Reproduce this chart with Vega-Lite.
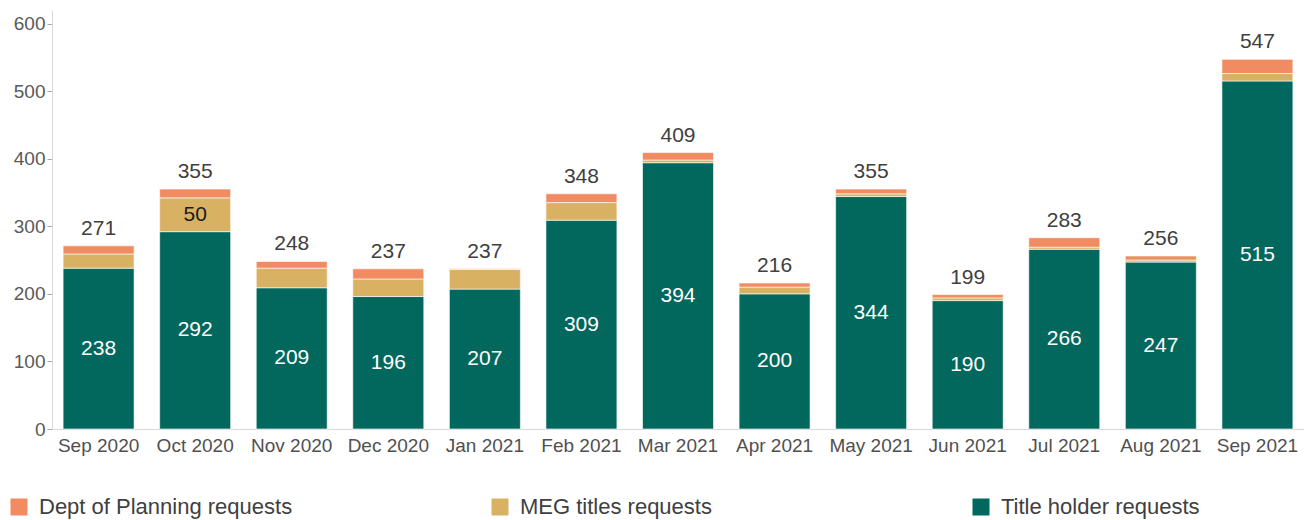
{
  "$schema": "https://vega.github.io/schema/vega-lite/v6.json",
  "autosize": {"type": "none"},
  "width": 1252,
  "height": 419,
  "padding": {"left": 52, "top": 10, "right": 0, "bottom": 91},
  "background": "white",
  "config": {
    "font": "Liberation Sans",
    "view": {"stroke": null}
  },
  "data": {
    "values": [
      {"month": "Sep 2020", "category": "Title holder requests", "order": 1, "value": 238},
      {"month": "Sep 2020", "category": "MEG titles requests", "order": 2, "value": 21},
      {"month": "Sep 2020", "category": "Dept of Planning requests", "order": 3, "value": 12},
      {"month": "Oct 2020", "category": "Title holder requests", "order": 1, "value": 292},
      {"month": "Oct 2020", "category": "MEG titles requests", "order": 2, "value": 50},
      {"month": "Oct 2020", "category": "Dept of Planning requests", "order": 3, "value": 13},
      {"month": "Nov 2020", "category": "Title holder requests", "order": 1, "value": 209},
      {"month": "Nov 2020", "category": "MEG titles requests", "order": 2, "value": 29},
      {"month": "Nov 2020", "category": "Dept of Planning requests", "order": 3, "value": 10},
      {"month": "Dec 2020", "category": "Title holder requests", "order": 1, "value": 196},
      {"month": "Dec 2020", "category": "MEG titles requests", "order": 2, "value": 26},
      {"month": "Dec 2020", "category": "Dept of Planning requests", "order": 3, "value": 15},
      {"month": "Jan 2021", "category": "Title holder requests", "order": 1, "value": 207},
      {"month": "Jan 2021", "category": "MEG titles requests", "order": 2, "value": 29},
      {"month": "Jan 2021", "category": "Dept of Planning requests", "order": 3, "value": 1},
      {"month": "Feb 2021", "category": "Title holder requests", "order": 1, "value": 309},
      {"month": "Feb 2021", "category": "MEG titles requests", "order": 2, "value": 26},
      {"month": "Feb 2021", "category": "Dept of Planning requests", "order": 3, "value": 13},
      {"month": "Mar 2021", "category": "Title holder requests", "order": 1, "value": 394},
      {"month": "Mar 2021", "category": "MEG titles requests", "order": 2, "value": 4},
      {"month": "Mar 2021", "category": "Dept of Planning requests", "order": 3, "value": 11},
      {"month": "Apr 2021", "category": "Title holder requests", "order": 1, "value": 200},
      {"month": "Apr 2021", "category": "MEG titles requests", "order": 2, "value": 10},
      {"month": "Apr 2021", "category": "Dept of Planning requests", "order": 3, "value": 6},
      {"month": "May 2021", "category": "Title holder requests", "order": 1, "value": 344},
      {"month": "May 2021", "category": "MEG titles requests", "order": 2, "value": 4},
      {"month": "May 2021", "category": "Dept of Planning requests", "order": 3, "value": 7},
      {"month": "Jun 2021", "category": "Title holder requests", "order": 1, "value": 190},
      {"month": "Jun 2021", "category": "MEG titles requests", "order": 2, "value": 4},
      {"month": "Jun 2021", "category": "Dept of Planning requests", "order": 3, "value": 5},
      {"month": "Jul 2021", "category": "Title holder requests", "order": 1, "value": 266},
      {"month": "Jul 2021", "category": "MEG titles requests", "order": 2, "value": 3},
      {"month": "Jul 2021", "category": "Dept of Planning requests", "order": 3, "value": 14},
      {"month": "Aug 2021", "category": "Title holder requests", "order": 1, "value": 247},
      {"month": "Aug 2021", "category": "MEG titles requests", "order": 2, "value": 3},
      {"month": "Aug 2021", "category": "Dept of Planning requests", "order": 3, "value": 6},
      {"month": "Sep 2021", "category": "Title holder requests", "order": 1, "value": 515},
      {"month": "Sep 2021", "category": "MEG titles requests", "order": 2, "value": 11},
      {"month": "Sep 2021", "category": "Dept of Planning requests", "order": 3, "value": 21}
    ]
  },
  "encoding": {
    "x": {
      "field": "month",
      "type": "ordinal",
      "sort": null,
      "scale": {"paddingInner": 0.265, "paddingOuter": 0.115},
      "axis": {
        "title": null,
        "labelAngle": 0,
        "ticks": false,
        "domainColor": "#d9d9d9",
        "labelColor": "#505050",
        "labelFontSize": 19,
        "labelPadding": 7
      }
    }
  },
  "layer": [
    {
      "mark": {"type": "bar", "stroke": "white", "strokeWidth": 0.6},
      "encoding": {
        "y": {
          "field": "value",
          "type": "quantitative",
          "stack": "zero",
          "scale": {"domain": [0, 620], "nice": false},
          "axis": {
            "title": null,
            "values": [0, 100, 200, 300, 400, 500, 600],
            "grid": false,
            "domainColor": "#d9d9d9",
            "tickColor": "#a6a6a6",
            "tickSize": 5,
            "labelColor": "#595959",
            "labelFontSize": 19,
            "labelPadding": 2
          }
        },
        "order": {"field": "order", "type": "quantitative"},
        "color": {
          "field": "category",
          "type": "nominal",
          "scale": {
            "domain": ["Dept of Planning requests", "MEG titles requests", "Title holder requests"],
            "range": ["#F08B62", "#D9B163", "#02675C"]
          },
          "legend": {
            "title": null,
            "orient": "none",
            "legendX": -44,
            "legendY": 486,
            "direction": "horizontal",
            "columns": 3,
            "gridAlign": "all",
            "columnPadding": 196,
            "symbolType": "square",
            "symbolSize": 289,
            "symbolStrokeWidth": 0,
            "labelFontSize": 22,
            "labelColor": "#404040",
            "labelOffset": 9,
            "labelLimit": 400
          }
        }
      }
    },
    {
      "transform": [
        {"stack": "value", "groupby": ["month"], "sort": [{"field": "order"}], "as": ["y0", "y1"]},
        {"filter": "datum.category === 'Title holder requests' || datum.value >= 40"},
        {"calculate": "(datum.y0 + datum.y1) / 2", "as": "mid"}
      ],
      "mark": {"type": "text", "fontSize": 21, "baseline": "middle"},
      "encoding": {
        "y": {"field": "mid", "type": "quantitative"},
        "text": {"field": "value", "type": "quantitative"},
        "color": {
          "condition": {"test": "datum.category === 'Title holder requests'", "value": "white"},
          "value": "#1a1a1a"
        }
      }
    },
    {
      "transform": [
        {"aggregate": [{"op": "sum", "field": "value", "as": "total"}], "groupby": ["month"]}
      ],
      "mark": {"type": "text", "fontSize": 21, "baseline": "bottom", "dy": -7, "color": "#404040"},
      "encoding": {
        "y": {"field": "total", "type": "quantitative"},
        "text": {"field": "total", "type": "quantitative"}
      }
    }
  ]
}
